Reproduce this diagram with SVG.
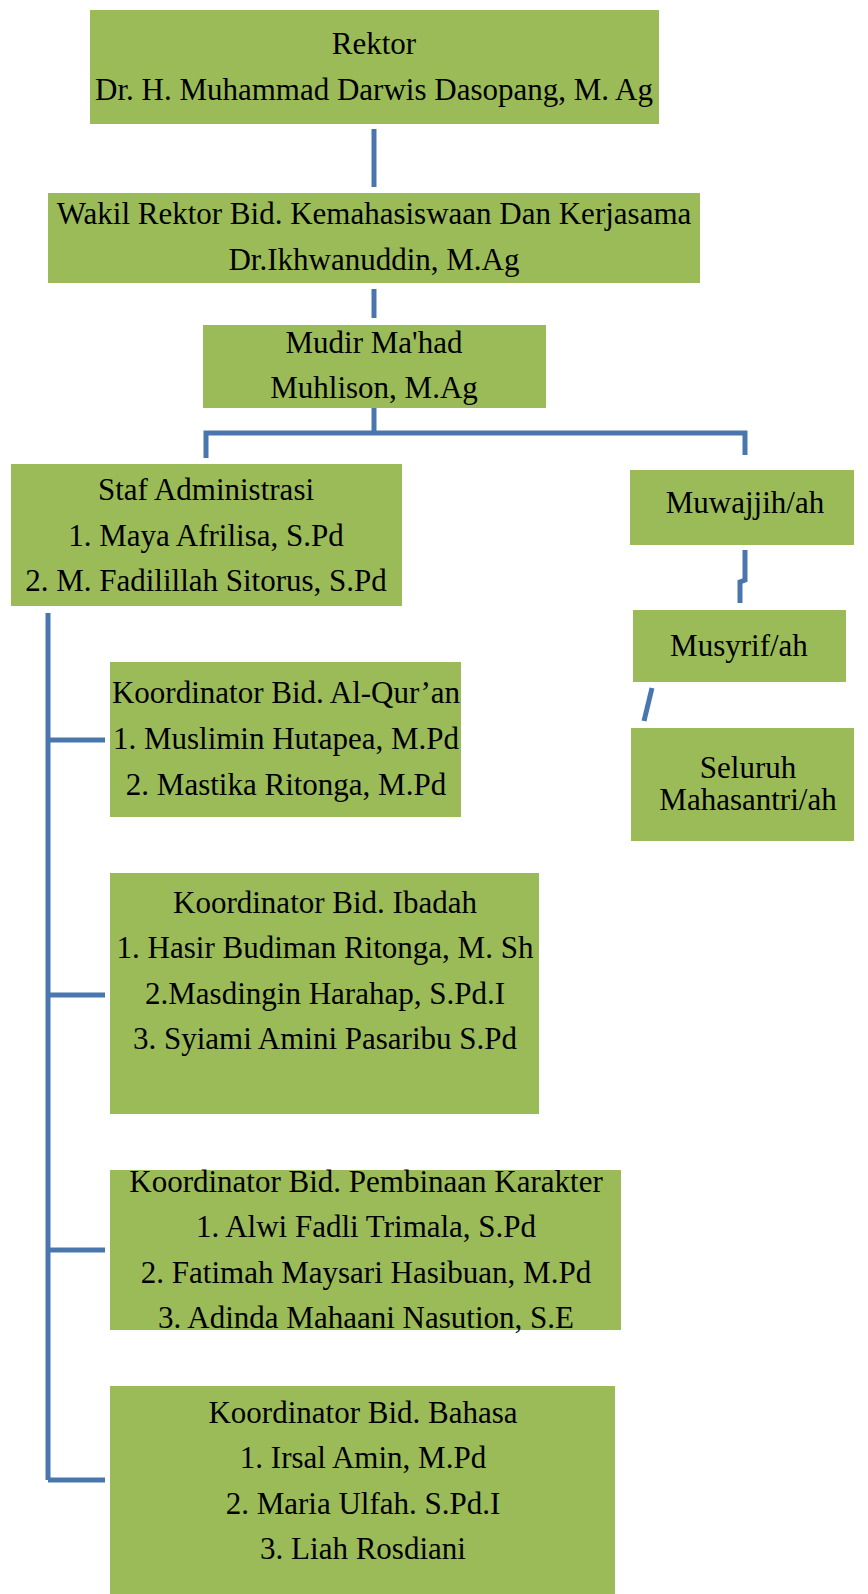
<svg xmlns="http://www.w3.org/2000/svg" width="868" height="1594" viewBox="0 0 868 1594">
<style>
.box{fill:#9BBB59;stroke:none}
.t{font-family:"Liberation Serif","Times New Roman",serif;font-size:31px;fill:#000;text-anchor:middle}
.c{fill:none;stroke:#4A76AE;stroke-width:5}
</style>
<rect width="868" height="1594" fill="#fff"/>
<g id="connectors">
<path class="c" d="M374,129 V187"/>
<path class="c" d="M374,289 V318"/>
<path class="c" d="M374,408 V433 M206,458 V433 H745 V455"/>
<path class="c" d="M745,550 V580 L740,582 V603"/>
<path class="c" d="M652,688 L644,721"/>
<path class="c" d="M48,613 V1480 M48,740 H105 M48,995 H105 M48,1250 H105 M48,1480 H105"/>
</g>
<g id="rektor"><rect class="box" x="90" y="10" width="569" height="114"/>
<text class="t" x="374" y="54">Rektor</text><text class="t" x="374" y="100">Dr. H. Muhammad Darwis Dasopang, M. Ag</text></g>
<g id="wakil"><rect class="box" x="48" y="193" width="652" height="90"/>
<text class="t" x="374" y="224">Wakil Rektor Bid. Kemahasiswaan Dan Kerjasama</text><text class="t" x="374" y="270">Dr.Ikhwanuddin, M.Ag</text></g>
<g id="mudir"><rect class="box" x="203" y="325" width="343" height="83"/>
<text class="t" x="374" y="353">Mudir Ma'had</text><text class="t" x="374" y="398">Muhlison, M.Ag</text></g>
<g id="staf"><rect class="box" x="11" y="464" width="391" height="142"/>
<text class="t" x="206" y="500">Staf Administrasi</text><text class="t" x="206" y="546">1. Maya Afrilisa, S.Pd</text><text class="t" x="206" y="591">2. M. Fadilillah Sitorus, S.Pd</text></g>
<g id="muwajjih"><rect class="box" x="630" y="470" width="224" height="75"/>
<text class="t" x="745" y="513">Muwajjih/ah</text></g>
<g id="musyrif"><rect class="box" x="633" y="610" width="213" height="72"/>
<text class="t" x="739" y="656">Musyrif/ah</text></g>
<g id="seluruh"><rect class="box" x="631" y="728" width="223" height="113"/>
<text class="t" x="748" y="778">Seluruh</text><text class="t" x="748" y="810">Mahasantri/ah</text></g>
<g id="alquran"><rect class="box" x="110" y="662" width="351" height="155"/>
<text class="t" x="286" y="703">Koordinator Bid. Al-Qur’an</text><text class="t" x="286" y="749">1. Muslimin Hutapea, M.Pd</text><text class="t" x="286" y="795">2. Mastika Ritonga, M.Pd</text></g>
<g id="ibadah"><rect class="box" x="110" y="873" width="429" height="241"/>
<text class="t" x="325" y="913">Koordinator Bid. Ibadah</text><text class="t" x="325" y="958">1. Hasir Budiman Ritonga, M. Sh</text><text class="t" x="325" y="1004">2.Masdingin Harahap, S.Pd.I</text><text class="t" x="325" y="1049">3. Syiami Amini Pasaribu S.Pd</text></g>
<g id="pembinaan"><rect class="box" x="110" y="1170" width="511" height="160"/>
<text class="t" x="366" y="1192">Koordinator Bid. Pembinaan Karakter</text><text class="t" x="366" y="1237">1. Alwi Fadli Trimala, S.Pd</text><text class="t" x="366" y="1283">2. Fatimah Maysari Hasibuan, M.Pd</text><text class="t" x="366" y="1328">3. Adinda Mahaani Nasution, S.E</text></g>
<g id="bahasa"><rect class="box" x="110" y="1386" width="505" height="208"/>
<text class="t" x="363" y="1423">Koordinator Bid. Bahasa</text><text class="t" x="363" y="1468">1. Irsal Amin, M.Pd</text><text class="t" x="363" y="1514">2. Maria Ulfah. S.Pd.I</text><text class="t" x="363" y="1559">3. Liah Rosdiani</text></g>
</svg>
